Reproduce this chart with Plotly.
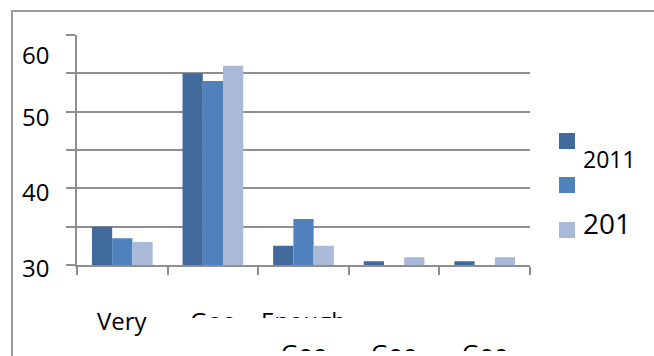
import plotly.graph_objects as go

# ---- data ----
categories = ["Very Good", "Good", "Enough Good", "Less Good", "Not Good"]
series_names = ["2011", "2012", "2013"]
values_2011 = [35, 55, 32.5, 30.5, 30.5]
values_2012 = [33.5, 54, 36, None, None]
values_2013 = [33, 56, 32.5, 31, 31]
series_colors = ["#40699C", "#4F81BD", "#A9B9D8"]

label_row1 = ["Very", "Goo", "Enough", "", ""]
label_row2 = ["", "", "Goo", "Goo", "Goo"]
y_tick_text = ["30", "40", "50", "60"]
y_tick_pos = [29.7, 39.6, 49.4, 57.5]
legend_text = ["2011", "", "201"]
legend_font = [23, 23, 28]

# ---- layout geometry (pixels) ----
W, H = 654, 356
L, R, T, B = 77, 124, 35, 91
PW, PH = W - L - R, H - T - B
GRAY = "#8E8E8E"
FONT = "Open Sans"
Y0, Y1 = 30, 60


def px(x):
    return (x - L) / PW


def py(y):
    return (H - B - y) / PH


def vy(v):
    return (v - Y0) / (Y1 - Y0)


fig = go.Figure()
for name, vals, col in zip(series_names, [values_2011, values_2012, values_2013], series_colors):
    fig.add_trace(go.Bar(x=categories, y=vals, name=name, marker_color=col,
                         marker_line_width=0))

annotations = []
# y tick labels
for t, v in zip(y_tick_text, y_tick_pos):
    annotations.append(dict(text=t, xref="paper", yref="paper", x=px(51), y=vy(v),
                            xanchor="right", yanchor="middle", showarrow=False,
                            font=dict(family=FONT, size=24, color="black")))
# category labels
for cat, t1, t2 in zip(categories, label_row1, label_row2):
    if t1:
        annotations.append(dict(text=t1, xref="x", yref="paper", x=cat, y=py(320),
                                xanchor="center", yanchor="middle", showarrow=False,
                                font=dict(family=FONT, size=24, color="black")))
    if t2:
        annotations.append(dict(text=t2, xref="x", yref="paper", x=cat, y=py(352),
                                xanchor="center", yanchor="middle", showarrow=False,
                                font=dict(family=FONT, size=24, color="black")))
# legend
shapes = []
legend_centers = [141, 185, 230]
legend_text_y = [159, None, 223]
for col, cy, t, ty, fs in zip(series_colors, legend_centers, legend_text, legend_text_y, legend_font):
    shapes.append(dict(type="rect", xref="paper", yref="paper",
                       x0=px(559), x1=px(575), y0=py(cy + 8), y1=py(cy - 8),
                       fillcolor=col, line=dict(width=0)))
    if t:
        annotations.append(dict(text=t, xref="paper", yref="paper", x=px(581), y=py(ty),
                                xanchor="left", yanchor="middle", showarrow=False,
                                font=dict(family=FONT, size=fs, color="black")))
# masks reproducing the clipped label text
for x0, x1, y0, y1 in [(165, 350, 318, 340), (255, 530, 351, 362)]:
    annotations.append(dict(text=" ", xref="paper", yref="paper", x=px(x0), y=py(y0),
                            xanchor="left", yanchor="top", showarrow=False,
                            width=x1 - x0, height=y1 - y0, bgcolor="white",
                            borderpad=0, borderwidth=0))
# outer frame (top and left edges visible)
shapes.append(dict(type="line", xref="paper", yref="paper",
                   x0=px(11), x1=px(700), y0=py(11), y1=py(11),
                   line=dict(color="#9A9A9A", width=2), layer="below"))
shapes.append(dict(type="line", xref="paper", yref="paper",
                   x0=px(12), x1=px(12), y0=py(10), y1=py(400),
                   line=dict(color="#9A9A9A", width=2), layer="below"))

fig.update_layout(
    width=W, height=H, autosize=False,
    margin=dict(l=L, r=R, t=T, b=B, pad=0),
    paper_bgcolor="white", plot_bgcolor="white",
    barmode="group", bargap=0.33, bargroupgap=0,
    showlegend=False,
    annotations=annotations, shapes=shapes,
    xaxis=dict(type="category", showgrid=False, showticklabels=False,
               showline=True, linecolor=GRAY, linewidth=2,
               ticks="outside", tickson="boundaries", ticklen=8, tickwidth=2, tickcolor=GRAY,
               zeroline=False),
    yaxis=dict(range=[Y0, Y1], tick0=30, dtick=5, showgrid=True, gridcolor=GRAY, gridwidth=2,
               showline=True, linecolor=GRAY, linewidth=2, showticklabels=False,
               ticks="outside", ticklen=9, tickwidth=2, tickcolor=GRAY, zeroline=False),
)

fig.write_html("out.html")
